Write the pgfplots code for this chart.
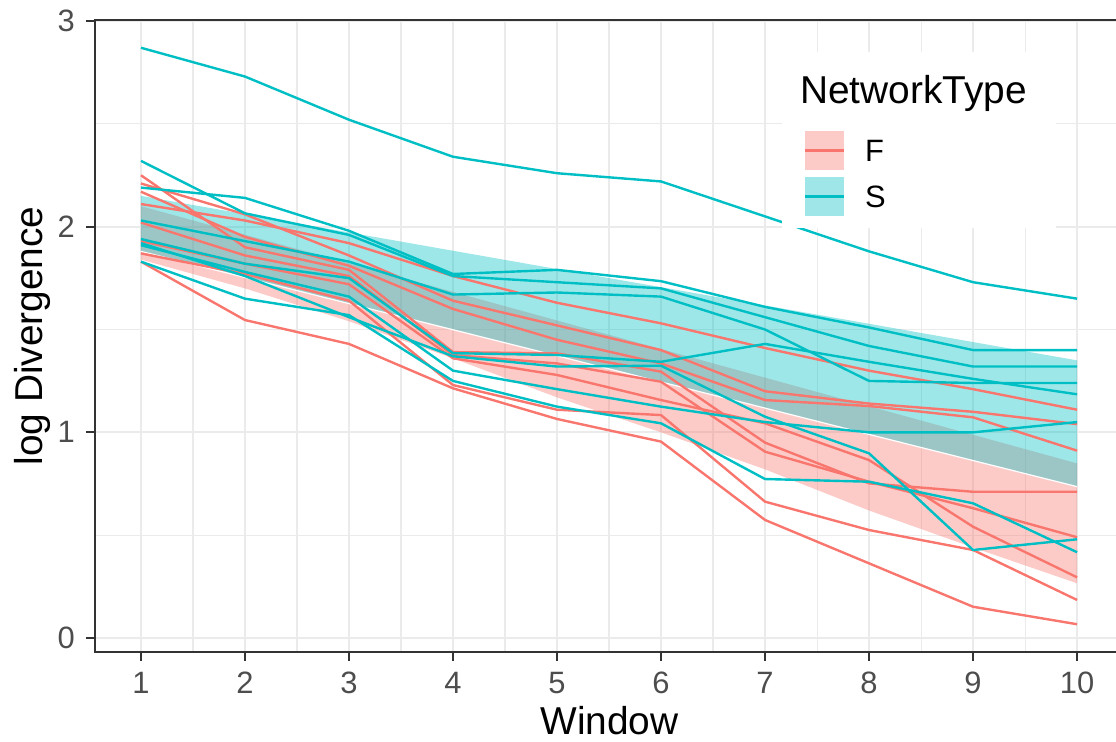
\documentclass[border=0pt]{standalone}
\usepackage{fontspec}
\setmainfont{Liberation Sans}
\usepackage{pgfplots}
\pgfplotsset{compat=1.18}
\usepackage{pgfplotstable}
\definecolor{cF}{HTML}{F8766D}
\definecolor{cS}{HTML}{00BFC4}
\definecolor{gridc}{HTML}{EBEBEB}
\definecolor{bordc}{HTML}{333333}
\definecolor{tickc}{HTML}{4D4D4D}

\pgfplotstableread{
x R1 R2 R3 R4 R5 R6 R7 R8
1 2.11 2.21 2.17 2.25 2.02 1.93 1.87 1.83
2 2.03 2.06 1.95 1.90 1.86 1.82 1.77 1.546
3 1.92 1.86 1.81 1.79 1.76 1.72 1.64 1.43
4 1.76 1.64 1.60 1.39 1.376 1.36 1.23 1.214
5 1.63 1.52 1.45 1.384 1.335 1.279 1.11 1.065
6 1.53 1.40 1.335 1.295 1.246 1.157 1.084 0.955
7 1.41 1.20 1.157 0.95 0.906 1.044 0.663 0.574
8 1.30 1.14 1.128 0.752 0.76 0.865 0.525 0.363
9 1.21 1.10 1.073 0.711 0.631 0.541 0.428 0.152
10 1.11 1.04 0.911 0.711 0.49 0.295 0.185 0.067
}\Fdata

\pgfplotstableread{
x A B C D E F G H
1 2.87 2.19 2.32 2.03 1.94 1.91 1.92 1.83
2 2.73 2.14 2.065 1.93 1.82 1.78 1.76 1.65
3 2.52 1.98 1.96 1.83 1.75 1.66 1.56 1.57
4 2.34 1.77 1.76 1.67 1.385 1.30 1.37 1.25
5 2.26 1.79 1.73 1.68 1.376 1.21 1.32 1.125
6 2.22 1.735 1.70 1.66 1.343 1.125 1.324 1.044
7 2.05 1.61 1.56 1.50 1.43 1.05 1.076 0.773
8 1.88 1.51 1.42 1.25 1.343 1.0 0.898 0.76
9 1.73 1.40 1.32 1.24 1.26 1.0 0.428 0.655
10 1.65 1.40 1.32 1.24 1.185 1.05 0.48 0.417
}\Sdata

% ribbons: upper edge from 1 to 10, then lower edge back from 10 to 1
\pgfplotstableread{
x y
1 2.100
2 1.961
3 1.822
4 1.683
5 1.544
6 1.405
7 1.266
8 1.127
9 0.988
10 0.849
10 0.266
9 0.44
8 0.62
7 0.82
6 1.00
5 1.17
4 1.36
3 1.54
2 1.70
1 1.84
}\Fribbon

\pgfplotstableread{
x y
1 2.150
2 2.061
3 1.972
4 1.883
5 1.794
6 1.706
7 1.617
8 1.528
9 1.439
10 1.350
10 0.736
9 0.863
8 0.990
7 1.118
6 1.245
5 1.372
4 1.499
3 1.626
2 1.753
1 1.880
}\Sribbon

\pgfplotstableread{
x y
1 1.880
2 1.753
3 1.626
4 1.499
5 1.372
6 1.245
7 1.118
8 0.990
9 0.863
10 0.736
}\Sseam

\begin{document}
\begin{tikzpicture}
\begin{axis}[
  at={(95bp,90bp)}, anchor=south west,
  scale only axis, width=1021bp, height=632bp,
  xmin=0.558, xmax=10.375, ymin=-0.068, ymax=3.005,
  xtick={1,...,10}, ytick={0,1,2,3},
  minor xtick={1.5,2.5,...,9.5}, minor ytick={0.5,1.5,2.5},
  grid=both,
  major grid style={gridc, line width=2.2bp},
  minor grid style={gridc, line width=1.1bp},
  axis line style={draw=none},
  tick align=outside, xtick pos=bottom, ytick pos=left,
  major tick length=9bp, minor tick length=0pt,
  major tick style={bordc, line width=2.2bp},
  ticklabel style={font=\fontsize{31}{31}\selectfont, text=tickc, inner sep=0pt},
  xticklabel style={yshift=-11bp},
  yticklabel style={xshift=-11bp},
  /pgf/number format/assume math mode=true,
]
\addplot[draw=none, fill=cF, fill opacity=0.38] table[x=x,y=y] {\Fribbon};
\addplot[draw=none, fill=cS, fill opacity=0.38] table[x=x,y=y] {\Sribbon};
\addplot[white, line width=1.2bp] table[x=x,y=y] {\Sseam};

\addplot[cF, line width=2.4bp] table[x=x,y=R1] {\Fdata};
\addplot[cF, line width=2.4bp] table[x=x,y=R2] {\Fdata};
\addplot[cF, line width=2.4bp] table[x=x,y=R3] {\Fdata};
\addplot[cF, line width=2.4bp] table[x=x,y=R4] {\Fdata};
\addplot[cF, line width=2.4bp] table[x=x,y=R5] {\Fdata};
\addplot[cF, line width=2.4bp] table[x=x,y=R6] {\Fdata};
\addplot[cF, line width=2.4bp] table[x=x,y=R7] {\Fdata};
\addplot[cF, line width=2.4bp] table[x=x,y=R8] {\Fdata};

\addplot[cS, line width=2.4bp] table[x=x,y=A] {\Sdata};
\addplot[cS, line width=2.4bp] table[x=x,y=B] {\Sdata};
\addplot[cS, line width=2.4bp] table[x=x,y=C] {\Sdata};
\addplot[cS, line width=2.4bp] table[x=x,y=D] {\Sdata};
\addplot[cS, line width=2.4bp] table[x=x,y=E] {\Sdata};
\addplot[cS, line width=2.4bp] table[x=x,y=F] {\Sdata};
\addplot[cS, line width=2.4bp] table[x=x,y=G] {\Sdata};
\addplot[cS, line width=2.4bp] table[x=x,y=H] {\Sdata};
\end{axis}

\begin{scope}[yshift=742bp, x=1bp, y=-1bp]
  % panel border (right side is outside the picture)
  \draw[bordc, line width=1.8bp] (1120,20) -- (95,20) -- (95,652) -- (1120,652);
  % legend
  \fill[white] (782,52) rectangle (1056,228);
  \node[anchor=base west, inner sep=0pt, font=\fontsize{39}{39}\selectfont] at (800,104) {NetworkType};
  \fill[cF, opacity=0.38] (805,131) rectangle (844,170);
  \draw[cF, line width=2.4bp] (805,150.5) -- (844,150.5);
  \fill[cS, opacity=0.38] (805,177) rectangle (844,216);
  \draw[cS, line width=2.4bp] (805,196.5) -- (844,196.5);
  \node[anchor=base west, inner sep=0pt, font=\fontsize{31}{31}\selectfont] at (865,162) {F};
  \node[anchor=base west, inner sep=0pt, font=\fontsize{31}{31}\selectfont] at (865,208) {S};
  % axis titles
  \node[anchor=base, inner sep=0pt, font=\fontsize{39}{39}\selectfont] at (609.5,735) {Window};
  \node[anchor=base, inner sep=0pt, rotate=90, font=\fontsize{39}{39}\selectfont] at (42,336) {log Divergence};
\end{scope}
\pgfresetboundingbox
\path[use as bounding box] (0,0) rectangle (1116bp,742bp);
\end{tikzpicture}
\end{document}
